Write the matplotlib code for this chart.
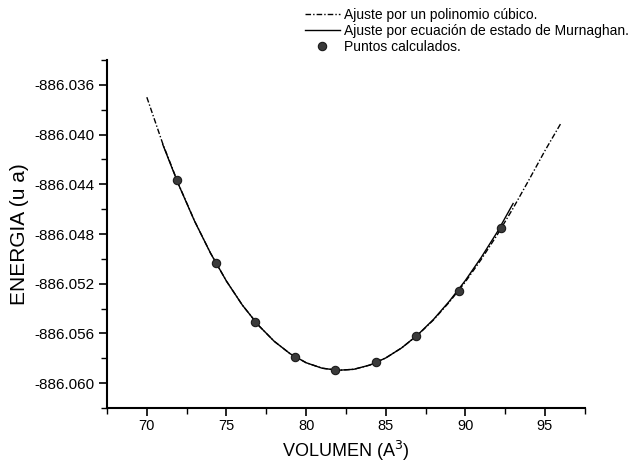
import numpy as np
import matplotlib
matplotlib.use('Agg')
import matplotlib.pyplot as plt
from matplotlib.ticker import MultipleLocator, FormatStrFormatter

plt.rcParams['font.family'] = ['Liberation Sans', 'DejaVu Sans']

# Puntos calculados (volumen en A^3, energia en u.a.)
vol_pts = [71.88, 74.34, 76.79, 79.30, 81.81, 84.36, 86.93, 89.60, 92.26]
ene_pts = [-886.04365, -886.05031, -886.05506, -886.05788, -886.05895,
           -886.05833, -886.05619, -886.05257, -886.04754]

# Ajuste por un polinomio cubico
vol_cub = [70, 71, 72, 73, 74, 75, 76, 77, 78, 79, 80, 81, 82, 83,
           84, 85, 86, 87, 88, 89, 90, 91, 92, 93, 94, 95, 96]
ene_cub = [-886.03700, -886.04074, -886.04402, -886.04696, -886.04954,
           -886.05179, -886.05372, -886.05533, -886.05663, -886.05763,
           -886.05835, -886.05879, -886.05896, -886.05888, -886.05854,
           -886.05797, -886.05716, -886.05614, -886.05491, -886.05347,
           -886.05185, -886.05004, -886.04807, -886.04593, -886.04364,
           -886.04130, -886.03910]

# Ajuste por ecuacion de estado de Murnaghan
vol_mur = [71, 72, 73, 74, 75, 76, 77, 78, 79, 80, 81, 82,
           83, 84, 85, 86, 87, 88, 89, 90, 91, 92, 93]
ene_mur = [-886.04080, -886.04405, -886.04697, -886.04954, -886.05179,
           -886.05372, -886.05533, -886.05663, -886.05763, -886.05835,
           -886.05879, -886.05896, -886.05888, -886.05854, -886.05797,
           -886.05716, -886.05612, -886.05487, -886.05340, -886.05174,
           -886.04988, -886.04785, -886.04555]

fig = plt.figure(figsize=(6.37, 4.68), dpi=100)
ax = fig.add_axes([0.168, 0.128, 0.750, 0.744])

l1, = ax.plot(vol_cub, ene_cub, color='black', lw=1.0,
              dashes=(4, 1.5, 1, 1.5), label='Ajuste por un polinomio cúbico.')
l2, = ax.plot(vol_mur, ene_mur, color='black', lw=1.0, ls='-',
              label='Ajuste por ecuación de estado de Murnaghan.')
l3, = ax.plot(vol_pts, ene_pts, ls='none', marker='o', ms=6,
              mfc='#3a3a3a', mec='#1a1a1a', mew=0.8, label='Puntos calculados.')

ax.set_xlim(67.5, 97.5)
ax.set_ylim(-886.062, -886.034)

ax.xaxis.set_major_locator(MultipleLocator(5))
ax.xaxis.set_minor_locator(MultipleLocator(2.5))
ax.yaxis.set_major_locator(MultipleLocator(0.004))
ax.yaxis.set_minor_locator(MultipleLocator(0.002))
ax.yaxis.set_major_formatter(FormatStrFormatter('%.3f'))
ax.xaxis.set_major_formatter(FormatStrFormatter('%d'))

for s in ['top', 'right']:
    ax.spines[s].set_visible(False)
for s in ['left', 'bottom']:
    ax.spines[s].set_linewidth(1.5)

ax.tick_params(which='major', direction='out', length=6, width=1.2)
ax.tick_params(which='minor', direction='out', length=4, width=1.0)
ax.tick_params(axis='y', labelsize=11, pad=3)
ax.tick_params(axis='x', labelsize=10.5, pad=2)

ax.set_xlabel('VOLUMEN (A$^3$)', fontsize=13, labelpad=4)
ax.set_ylabel('ENERGIA (u a)', fontsize=15, labelpad=4)

fig.legend(handles=[l1, l2, l3], loc='upper left',
           bbox_to_anchor=(298 / 637, 1 - 1 / 468), frameon=False,
           fontsize=10, handlelength=2.5, handletextpad=0.3,
           labelspacing=0.15, borderpad=0.0)

fig.savefig('out.png', dpi=100)
